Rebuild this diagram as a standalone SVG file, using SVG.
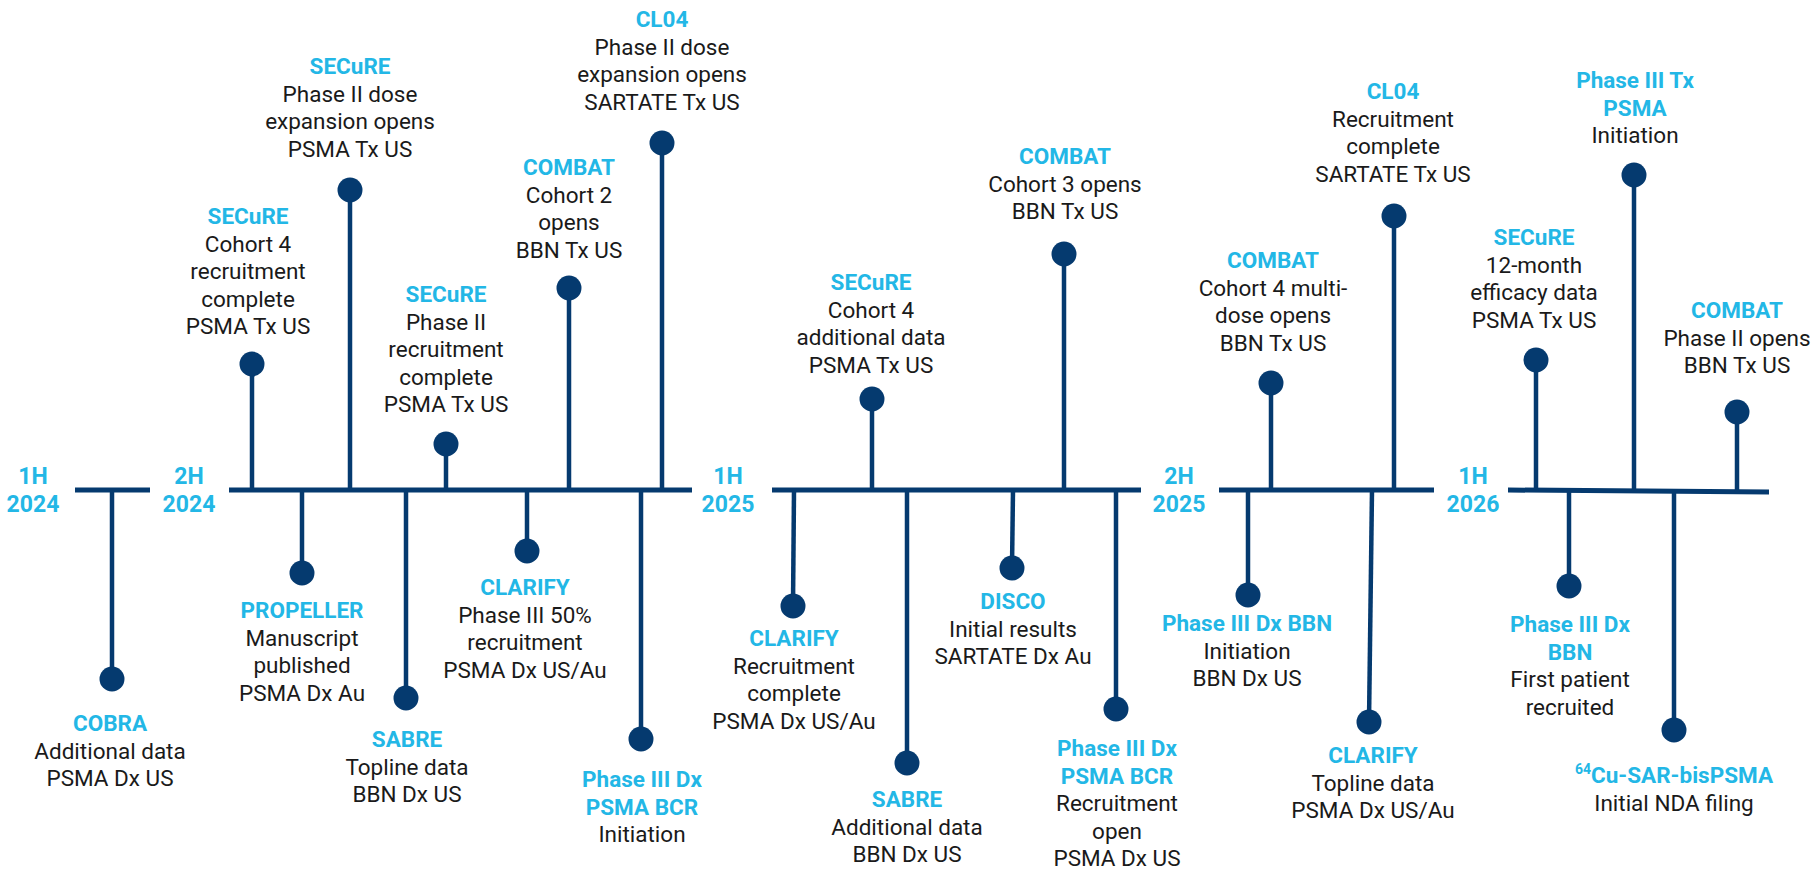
<svg xmlns="http://www.w3.org/2000/svg" width="1816" height="869" viewBox="0 0 1816 869">
<style>
.ax{stroke:#053a6f;stroke-width:5;fill:none}
.st{stroke:#053a6f;stroke-width:4.5;fill:none}
.dot{fill:#053a6f}
text{font-family:Roboto,"Liberation Sans",Arial,sans-serif;font-size:22.5px;text-anchor:middle;fill:#1a1a1a}
.t{font-weight:700;fill:#23b7e6}
.p{font-weight:700;fill:#23b7e6;font-size:23px}
</style>
<rect width="1816" height="869" fill="#ffffff"/>
<g id="connectors">
<line class="ax" x1="75" y1="490" x2="150" y2="490"/>
<line class="ax" x1="229" y1="490" x2="692" y2="490"/>
<line class="ax" x1="772" y1="490" x2="1141" y2="490"/>
<line class="ax" x1="1219" y1="490" x2="1434" y2="490"/>
<line class="ax" x1="1508" y1="490" x2="1769" y2="492"/>
<line class="st" x1="252" y1="490" x2="252" y2="364"/>
<line class="st" x1="350" y1="490" x2="350" y2="190"/>
<line class="st" x1="446" y1="490" x2="446" y2="444"/>
<line class="st" x1="569" y1="490" x2="569" y2="288"/>
<line class="st" x1="662" y1="490" x2="662" y2="143"/>
<line class="st" x1="872" y1="490" x2="872" y2="399"/>
<line class="st" x1="1064" y1="490" x2="1064" y2="254"/>
<line class="st" x1="1271" y1="490" x2="1271" y2="383"/>
<line class="st" x1="1394" y1="490" x2="1394" y2="216"/>
<line class="st" x1="1634" y1="491" x2="1634" y2="175"/>
<line class="st" x1="1536" y1="491" x2="1536" y2="360"/>
<line class="st" x1="1737" y1="492" x2="1737" y2="412"/>
<line class="st" x1="112" y1="490" x2="112" y2="679"/>
<line class="st" x1="302" y1="490" x2="302" y2="573"/>
<line class="st" x1="406" y1="490" x2="406" y2="698"/>
<line class="st" x1="527" y1="490" x2="527" y2="551"/>
<line class="st" x1="641" y1="490" x2="641" y2="739"/>
<line class="st" x1="794" y1="490" x2="793" y2="606"/>
<line class="st" x1="907" y1="490" x2="907" y2="763"/>
<line class="st" x1="1013" y1="490" x2="1012" y2="568"/>
<line class="st" x1="1116" y1="490" x2="1116" y2="709"/>
<line class="st" x1="1248" y1="490" x2="1248" y2="595"/>
<line class="st" x1="1372" y1="490" x2="1369" y2="722"/>
<line class="st" x1="1569" y1="491" x2="1569" y2="586"/>
<line class="st" x1="1674" y1="492" x2="1674" y2="730"/>
</g>
<g id="periods">
<text class="p" x="33" y="484">1H<tspan x="33" y="512">2024</tspan></text>
<text class="p" x="189" y="484">2H<tspan x="189" y="512">2024</tspan></text>
<text class="p" x="728" y="484">1H<tspan x="728" y="512">2025</tspan></text>
<text class="p" x="1179" y="484">2H<tspan x="1179" y="512">2025</tspan></text>
<text class="p" x="1473" y="484">1H<tspan x="1473" y="512">2026</tspan></text>
</g>
<g id="u1"><circle class="dot" cx="252" cy="364" r="12.5"/>
<text x="248" y="224"><tspan class="t">SECuRE</tspan><tspan x="248" y="251.5">Cohort 4</tspan><tspan x="248" y="279">recruitment</tspan><tspan x="248" y="306.5">complete</tspan><tspan x="248" y="334">PSMA Tx US</tspan></text></g>
<g id="u2"><circle class="dot" cx="350" cy="190" r="12.5"/>
<text x="350" y="74"><tspan class="t">SECuRE</tspan><tspan x="350" y="101.5">Phase II dose</tspan><tspan x="350" y="129">expansion opens</tspan><tspan x="350" y="156.5">PSMA Tx US</tspan></text></g>
<g id="u3"><circle class="dot" cx="446" cy="444" r="12.5"/>
<text x="446" y="302"><tspan class="t">SECuRE</tspan><tspan x="446" y="329.5">Phase II</tspan><tspan x="446" y="357">recruitment</tspan><tspan x="446" y="384.5">complete</tspan><tspan x="446" y="412">PSMA Tx US</tspan></text></g>
<g id="u4"><circle class="dot" cx="569" cy="288" r="12.5"/>
<text x="569" y="175"><tspan class="t">COMBAT</tspan><tspan x="569" y="202.5">Cohort 2</tspan><tspan x="569" y="230">opens</tspan><tspan x="569" y="257.5">BBN Tx US</tspan></text></g>
<g id="u5"><circle class="dot" cx="662" cy="143" r="12.5"/>
<text x="662" y="27"><tspan class="t">CL04</tspan><tspan x="662" y="54.5">Phase II dose</tspan><tspan x="662" y="82">expansion opens</tspan><tspan x="662" y="109.5">SARTATE Tx US</tspan></text></g>
<g id="u6"><circle class="dot" cx="872" cy="399" r="12.5"/>
<text x="871" y="290"><tspan class="t">SECuRE</tspan><tspan x="871" y="317.5">Cohort 4</tspan><tspan x="871" y="345">additional data</tspan><tspan x="871" y="372.5">PSMA Tx US</tspan></text></g>
<g id="u7"><circle class="dot" cx="1064" cy="254" r="12.5"/>
<text x="1065" y="164"><tspan class="t">COMBAT</tspan><tspan x="1065" y="191.5">Cohort 3 opens</tspan><tspan x="1065" y="219">BBN Tx US</tspan></text></g>
<g id="u8"><circle class="dot" cx="1271" cy="383" r="12.5"/>
<text x="1273" y="268"><tspan class="t">COMBAT</tspan><tspan x="1273" y="295.5">Cohort 4 multi-</tspan><tspan x="1273" y="323">dose opens</tspan><tspan x="1273" y="350.5">BBN Tx US</tspan></text></g>
<g id="u9"><circle class="dot" cx="1394" cy="216" r="12.5"/>
<text x="1393" y="99"><tspan class="t">CL04</tspan><tspan x="1393" y="126.5">Recruitment</tspan><tspan x="1393" y="154">complete</tspan><tspan x="1393" y="181.5">SARTATE Tx US</tspan></text></g>
<g id="u10"><circle class="dot" cx="1634" cy="175" r="12.5"/>
<text x="1635" y="88"><tspan class="t">Phase III Tx</tspan><tspan class="t" x="1635" y="115.5">PSMA</tspan><tspan x="1635" y="143">Initiation</tspan></text></g>
<g id="u11"><circle class="dot" cx="1536" cy="360" r="12.5"/>
<text x="1534" y="245"><tspan class="t">SECuRE</tspan><tspan x="1534" y="272.5">12-month</tspan><tspan x="1534" y="300">efficacy data</tspan><tspan x="1534" y="327.5">PSMA Tx US</tspan></text></g>
<g id="u12"><circle class="dot" cx="1737" cy="412" r="12.5"/>
<text x="1737" y="318"><tspan class="t">COMBAT</tspan><tspan x="1737" y="345.5">Phase II opens</tspan><tspan x="1737" y="373">BBN Tx US</tspan></text></g>
<g id="l1"><circle class="dot" cx="112" cy="679" r="12.5"/>
<text x="110" y="731"><tspan class="t">COBRA</tspan><tspan x="110" y="758.5">Additional data</tspan><tspan x="110" y="786">PSMA Dx US</tspan></text></g>
<g id="l2"><circle class="dot" cx="302" cy="573" r="12.5"/>
<text x="302" y="618"><tspan class="t">PROPELLER</tspan><tspan x="302" y="645.5">Manuscript</tspan><tspan x="302" y="673">published</tspan><tspan x="302" y="700.5">PSMA Dx Au</tspan></text></g>
<g id="l3"><circle class="dot" cx="406" cy="698" r="12.5"/>
<text x="407" y="747"><tspan class="t">SABRE</tspan><tspan x="407" y="774.5">Topline data</tspan><tspan x="407" y="802">BBN Dx US</tspan></text></g>
<g id="l4"><circle class="dot" cx="527" cy="551" r="12.5"/>
<text x="525" y="595"><tspan class="t">CLARIFY</tspan><tspan x="525" y="622.5">Phase III 50%</tspan><tspan x="525" y="650">recruitment</tspan><tspan x="525" y="677.5">PSMA Dx US/Au</tspan></text></g>
<g id="l5"><circle class="dot" cx="641" cy="739" r="12.5"/>
<text x="642" y="787"><tspan class="t">Phase III Dx</tspan><tspan class="t" x="642" y="814.5">PSMA BCR</tspan><tspan x="642" y="842">Initiation</tspan></text></g>
<g id="l6"><circle class="dot" cx="793" cy="606" r="12.5"/>
<text x="794" y="646"><tspan class="t">CLARIFY</tspan><tspan x="794" y="673.5">Recruitment</tspan><tspan x="794" y="701">complete</tspan><tspan x="794" y="728.5">PSMA Dx US/Au</tspan></text></g>
<g id="l7"><circle class="dot" cx="907" cy="763" r="12.5"/>
<text x="907" y="807"><tspan class="t">SABRE</tspan><tspan x="907" y="834.5">Additional data</tspan><tspan x="907" y="862">BBN Dx US</tspan></text></g>
<g id="l8"><circle class="dot" cx="1012" cy="568" r="12.5"/>
<text x="1013" y="609"><tspan class="t">DISCO</tspan><tspan x="1013" y="636.5">Initial results</tspan><tspan x="1013" y="664">SARTATE Dx Au</tspan></text></g>
<g id="l9"><circle class="dot" cx="1116" cy="709" r="12.5"/>
<text x="1117" y="756"><tspan class="t">Phase III Dx</tspan><tspan class="t" x="1117" y="783.5">PSMA BCR</tspan><tspan x="1117" y="811">Recruitment</tspan><tspan x="1117" y="838.5">open</tspan><tspan x="1117" y="866">PSMA Dx US</tspan></text></g>
<g id="l10"><circle class="dot" cx="1248" cy="595" r="12.5"/>
<text x="1247" y="631"><tspan class="t">Phase III Dx BBN</tspan><tspan x="1247" y="658.5">Initiation</tspan><tspan x="1247" y="686">BBN Dx US</tspan></text></g>
<g id="l11"><circle class="dot" cx="1369" cy="722" r="12.5"/>
<text x="1373" y="763"><tspan class="t">CLARIFY</tspan><tspan x="1373" y="790.5">Topline data</tspan><tspan x="1373" y="818">PSMA Dx US/Au</tspan></text></g>
<g id="l12"><circle class="dot" cx="1569" cy="586" r="12.5"/>
<text x="1570" y="632"><tspan class="t">Phase III Dx</tspan><tspan class="t" x="1570" y="659.5">BBN</tspan><tspan x="1570" y="687">First patient</tspan><tspan x="1570" y="714.5">recruited</tspan></text></g>
<g id="l13"><circle class="dot" cx="1674" cy="730" r="12.5"/>
<text x="1674" y="783"><tspan class="t" font-size="14" dy="-9">64</tspan><tspan class="t" dy="9">Cu-SAR-bisPSMA</tspan><tspan x="1674" y="810.5">Initial NDA filing</tspan></text></g>
</svg>
